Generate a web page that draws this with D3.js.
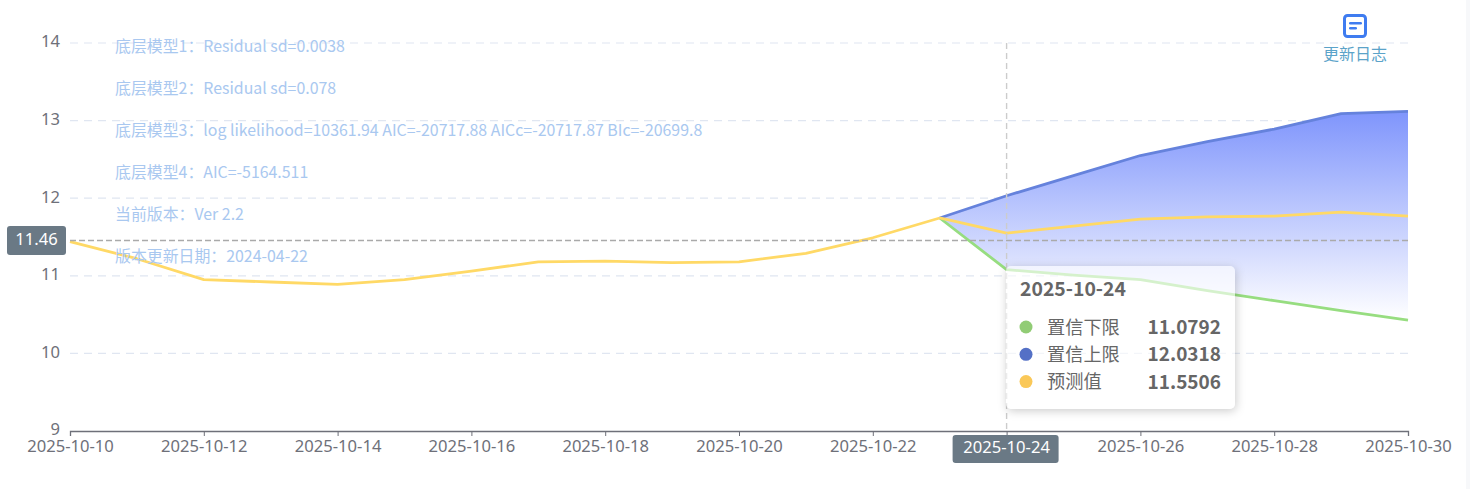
<!DOCTYPE html>
<html lang="en">
<head>
<meta charset="UTF-8">
<title>预测</title>
<script src="https://cdn.jsdelivr.net/npm/d3@7/dist/d3.min.js"></script>
<style>
html,body{margin:0;padding:0;background:#fff;overflow:hidden;}
svg{display:block;}
text{font-family:"Noto Sans CJK SC","Noto Sans",sans-serif;}
</style>
</head>
<body>
<div id="chart"></div>
<script>
// values
var histDates=["2025-10-10","2025-10-11","2025-10-12","2025-10-13","2025-10-14","2025-10-15","2025-10-16","2025-10-17","2025-10-18","2025-10-19","2025-10-20","2025-10-21","2025-10-22","2025-10-23"];
var histValues=[11.44,11.22,10.95,10.92,10.89,10.95,11.06,11.18,11.19,11.17,11.18,11.29,11.49,11.745];
var foreDates=["2025-10-23","2025-10-24","2025-10-25","2025-10-26","2025-10-27","2025-10-28","2025-10-29","2025-10-30"];
var predicted=[11.745,11.5506,11.64,11.73,11.76,11.77,11.82,11.77];
var upper=[11.745,12.0318,12.29,12.55,12.73,12.89,13.09,13.12];
var lower=[11.745,11.0792,11.01,10.95,10.81,10.68,10.55,10.43];
var yTicks=[9,10,11,12,13,14];
var notes=["底层模型1：Residual sd=0.0038","底层模型2：Residual sd=0.078","底层模型3：log likelihood=10361.94 AIC=-20717.88 AICc=-20717.87 BIc=-20699.8","底层模型4：AIC=-5164.511","当前版本：Ver 2.2","版本更新日期：2024-04-22"];
var currentValue=11.455;
var currentDate="2025-10-24";
var tipRows=[["置信下限","11.0792","#91cc75"],["置信上限","12.0318","#5470c6"],["预测值","11.5506","#fac858"]];

var parse=d3.utcParse("%Y-%m-%d"), fmt=d3.utcFormat("%Y-%m-%d");
var x=d3.scaleUtc().domain([parse("2025-10-10"),parse("2025-10-30")]).range([70,1408]);
var y=d3.scaleLinear().domain([9,14]).range([431,43]);
var latin='"Noto Sans","Noto Sans CJK SC",sans-serif';

var svg=d3.select("#chart").append("svg").attr("width",1470).attr("height",489);
svg.append("rect").attr("x",1466).attr("y",0).attr("width",4).attr("height",489).attr("fill","#f7f8fa");

var defs=svg.append("defs");
var grad=defs.append("linearGradient").attr("id","band").attr("x1",0).attr("y1",0).attr("x2",0).attr("y2",1);
grad.append("stop").attr("offset",0).attr("stop-color","#7f95fc");
grad.append("stop").attr("offset",1).attr("stop-color","#ffffff");
// shadow only outside the box, the box itself is see-through
var shadow=defs.append("filter").attr("id","tipShadow").attr("x","-20%").attr("y","-20%").attr("width","140%").attr("height","140%");
shadow.append("feGaussianBlur").attr("in","SourceAlpha").attr("stdDeviation",5).attr("result","blur");
shadow.append("feOffset").attr("in","blur").attr("dx",1).attr("dy",2).attr("result","off");
shadow.append("feFlood").attr("flood-color","#000").attr("flood-opacity",0.2);
shadow.append("feComposite").attr("in2","off").attr("operator","in").attr("result","col");
shadow.append("feComposite").attr("in","col").attr("in2","SourceAlpha").attr("operator","out");

// grid
svg.append("g").selectAll("line").data(yTicks.filter(function(d){return d>9;})).enter().append("line")
  .attr("x1",70).attr("x2",1408).attr("y1",function(d){return y(d);}).attr("y2",function(d){return y(d);})
  .attr("stroke","#e0e6f1").attr("stroke-width",1.2).attr("stroke-dasharray","8,6");

// axes
var xAxis=d3.axisBottom(x).tickValues(d3.range(0,11).map(function(i){return d3.utcDay.offset(parse("2025-10-10"),i*2);})).tickFormat(fmt).tickSize(5).tickPadding(4);
var gx=svg.append("g").attr("transform","translate(0,431)").call(xAxis);
gx.select(".domain").attr("stroke","#6e7079").attr("stroke-width",1.3);
gx.selectAll("line").attr("stroke","#6e7079");
gx.selectAll("text").attr("fill","#6e7079").style("font-size","16.6px").style("font-family",latin);
gx.selectAll("text").filter(function(d){return fmt(d)==currentDate;}).remove();

var yAxis=d3.axisLeft(y).tickValues(yTicks).tickFormat(d3.format("d")).tickSize(0).tickPadding(10);
var gy=svg.append("g").attr("transform","translate(70,0)").call(yAxis);
gy.select(".domain").remove();
gy.selectAll("text").attr("fill","#6e7079").attr("y",-1.5).style("font-size","16.6px").style("font-family",latin);

// band
var band=foreDates.map(function(d,i){return {date:parse(d),hi:upper[i],lo:lower[i]};});
svg.append("path").datum(band).attr("fill","url(#band)")
  .attr("d",d3.area().x(function(d){return x(d.date);}).y0(function(d){return y(d.lo);}).y1(function(d){return y(d.hi);}));

// lines
function drawLine(dates,vals,color){
  var pts=dates.map(function(d,i){return [x(parse(d)),y(vals[i])];});
  svg.append("path").attr("d",d3.line()(pts)).attr("fill","none").attr("stroke",color).attr("stroke-width",2.8).attr("stroke-linejoin","round");
}
drawLine(foreDates,lower,"#97dd80");
drawLine(foreDates,upper,"#6582dc");
drawLine(histDates,histValues,"#ffd966");
drawLine(foreDates,predicted,"#ffd966");

// pointers
svg.append("line").attr("x1",70).attr("x2",1408).attr("y1",y(currentValue)).attr("y2",y(currentValue))
  .attr("stroke","#aaa").attr("stroke-width",1.4).attr("stroke-dasharray","6,3");
var cx=x(parse(currentDate));
svg.append("line").attr("x1",cx).attr("x2",cx).attr("y1",43).attr("y2",431)
  .attr("stroke","#ccc").attr("stroke-width",1.4).attr("stroke-dasharray","6,4");

// pointer labels
svg.append("rect").attr("x",7).attr("y",226).attr("width",59).attr("height",29).attr("rx",3).attr("fill","#6a7985");
svg.append("text").attr("x",36.5).attr("y",244.5).attr("text-anchor","middle").attr("fill","#fff").style("font-size","16.6px").style("font-family",latin).text("11.46");
svg.append("rect").attr("x",cx-54).attr("y",435).attr("width",106).attr("height",28).attr("rx",3).attr("fill","#6a7985");
svg.append("text").attr("x",cx).attr("y",453).attr("text-anchor","middle").attr("fill","#fff").style("font-size","16.6px").style("font-family",latin).text(currentDate);

// notes
svg.append("g").selectAll("text").data(notes).enter().append("text")
  .attr("x",115).attr("y",function(d,i){return 52+i*42;})
  .attr("fill","#a9c8f0").style("font-size","15.9px").text(function(d){return d;});

// tooltip
var tip=svg.append("g").attr("transform","translate(1006,266)");
tip.append("rect").attr("width",229).attr("height",143).attr("rx",5).attr("fill","#000").attr("filter","url(#tipShadow)");
tip.append("rect").attr("width",229).attr("height",143).attr("rx",5).attr("fill","#fff").attr("fill-opacity",0.6);
tip.append("text").attr("x",14).attr("y",30).attr("fill","#666").style("font-size","19.4px").style("font-weight",700).text(currentDate);
var rows=tip.selectAll("g.row").data(tipRows).enter().append("g").attr("class","row")
  .attr("transform",function(d,i){return "translate(0,"+(61+i*27.3)+")";});
rows.append("circle").attr("cx",20).attr("cy",0).attr("r",6.5).attr("fill",function(d){return d[2];});
rows.append("text").attr("x",41).attr("y",6.5).attr("fill","#666").style("font-size","18.2px").text(function(d){return d[0];});
rows.append("text").attr("x",215).attr("y",7).attr("text-anchor","end").attr("fill","#666").style("font-size","19px").style("font-weight",700).text(function(d){return d[1];});

// update log icon
var icon=svg.append("g").attr("transform","translate(1343,14)");
icon.append("rect").attr("x",1.5).attr("y",1.5).attr("width",21).attr("height",21).attr("rx",3).attr("fill","#fff").attr("stroke","#3f7cf0").attr("stroke-width",3);
icon.append("rect").attr("x",6).attr("y",8).attr("width",13).attr("height",2.6).attr("rx",1.3).attr("fill","#3f7cf0");
icon.append("rect").attr("x",6).attr("y",13).attr("width",8).attr("height",2.6).attr("rx",1.3).attr("fill","#3f7cf0");
svg.append("text").attr("x",1355).attr("y",59.5).attr("text-anchor","middle").attr("fill","#5ba3c9").style("font-size","16px").text("更新日志");
</script>
</body>
</html>
